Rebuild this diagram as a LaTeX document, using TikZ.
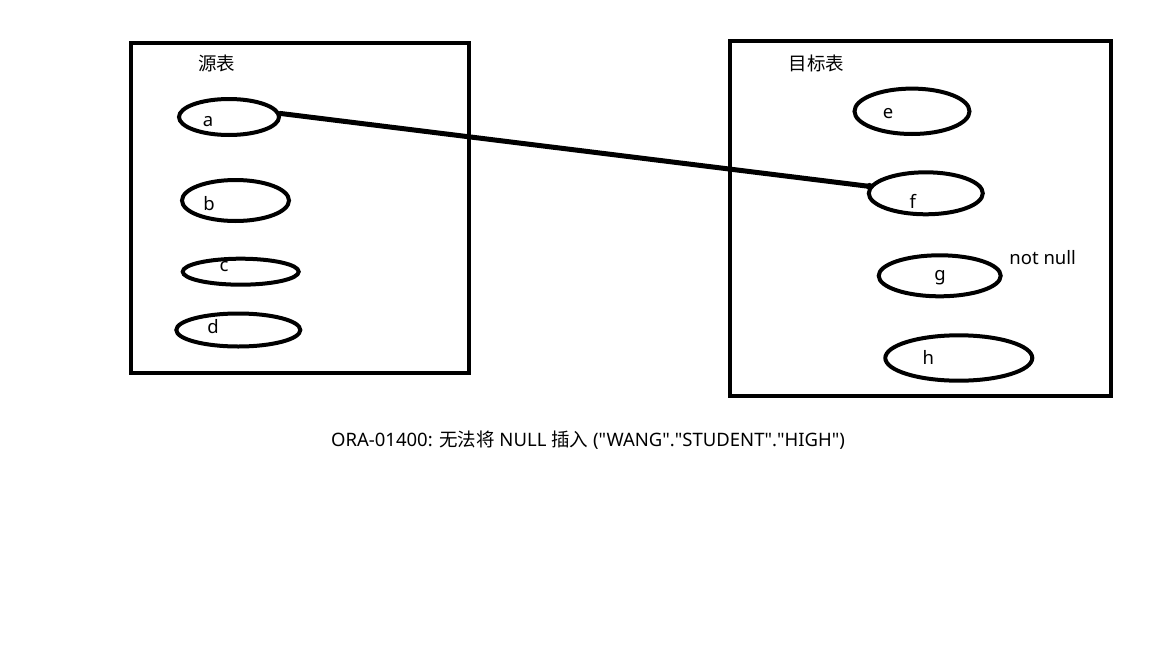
\documentclass[tikz,border=0pt]{standalone}
\usepackage{fontspec}
\setmainfont{Noto Sans}[Ligatures=TeXOff]
\newfontfamily\cjk{Noto Sans CJK SC}
\usetikzlibrary{shapes.geometric}
\begin{document}
\begin{tikzpicture}[x=1pt,y=-1pt,
  frame/.style={draw=black,line width=4.5pt,inner sep=0pt},
  oval/.style={draw=black,line width=4pt,ellipse,inner sep=0pt},
  lbl/.style={font=\fontsize{18.5}{20}\selectfont,inner sep=0pt},
  link/.style={draw=black,line width=5pt,line cap=round}]
\useasboundingbox[fill=white] (0,0) rectangle (1152,648);
% boxes
\node[frame,minimum width=338pt,minimum height=330pt] (src) at (300,208) {};
\node[frame,minimum width=381pt,minimum height=355pt] (dst) at (920.5,218.5) {};
\node[lbl] (srct) at (216.5,63) {\cjk 源表};
\node[lbl] (dstt) at (816.5,63) {\cjk 目标表};
% source ellipses
\node[oval,minimum width=100pt,minimum height=36pt] (a) at (229,117) {};
\node[oval,minimum width=107pt,minimum height=41pt] (b) at (235.5,200.5) {};
\node[oval,minimum width=116pt,minimum height=26pt] (c) at (240.7,271.7) {};
\node[oval,minimum width=124pt,minimum height=33pt] (d) at (238.3,330) {};
\node[lbl] (la) at (208,122) {a};
\node[lbl] (lb) at (209,204) {b};
\node[lbl] (lc) at (224,267) {c};
\node[lbl] (ld) at (213,327) {d};
% target ellipses
\node[oval,minimum width=115pt,minimum height=45.4pt] (e) at (912,111.3) {};
\node[oval,minimum width=114pt,minimum height=42pt] (f) at (925.8,193.3) {};
\node[oval,minimum width=122pt,minimum height=41pt] (g) at (939.7,275.8) {};
\node[oval,minimum width=147pt,minimum height=45.4pt] (h) at (958.8,358) {};
\node[lbl] (le) at (888,114) {e};
\node[lbl] (lf) at (912.7,201) {f};
\node[lbl] (lg) at (940,278) {g};
\node[lbl] (lh) at (928.3,357) {h};
\node[lbl] (nn) at (1042.7,257.5) {not null};
% connector
\draw[link] (a.4) -- (f.173);
\fill (f.173) circle (3.5pt);
% message
\node[lbl] (msg) at (588,440) {ORA-01400: {\cjk 无法将} NULL {\cjk 插入} ("WANG"."STUDENT"."HIGH")};
\end{tikzpicture}
\end{document}
